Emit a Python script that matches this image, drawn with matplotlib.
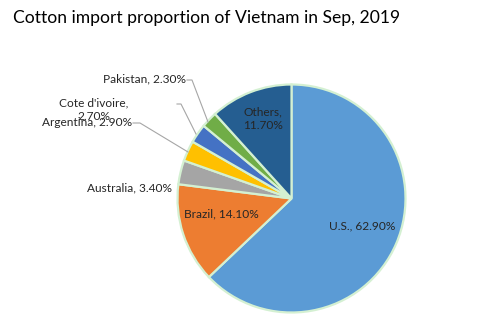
import matplotlib.pyplot as plt

plt.rcParams['font.family'] = ['Lato', 'DejaVu Sans']

# Share of cotton imports by origin
countries = ['U.S.', 'Brazil', 'Australia', 'Argentina', "Cote d'ivoire", 'Pakistan', 'Others']
shares = [62.90, 14.10, 3.40, 2.90, 2.70, 2.30, 11.70]
colors = ['#5B9BD5', '#ED7D31', '#A5A5A5', '#FFC000', '#4472C4', '#70AD47', '#255E91']

W, H = 500, 325
fig = plt.figure(figsize=(W / 100, H / 100), dpi=100)
ax = fig.add_axes([0, 0, 1, 1])

cx, cy, r = 291.5, H - 198.5, 114
wedges, _ = ax.pie(shares, colors=colors, startangle=90, counterclock=False,
                   center=(cx, cy), radius=r, frame=True,
                   wedgeprops=dict(edgecolor='#D4F0D2', linewidth=1.6))
ax.set_xlim(0, W)
ax.set_ylim(0, H)
ax.axis('off')

fig.text(207 / W, 1 - 18 / H, 'Cotton import proportion of Vietnam in Sep, 2019',
         ha='center', va='center', fontsize=12.6, color='black')

lbl = [f'{c}, {s:.2f}%' for c, s in zip(countries, shares)]
tc = '#262626'
fs = 8.6
# label positions in pixel coordinates (x, y from top)
ax.text(362, H - 226, lbl[0], ha='center', va='center', fontsize=fs, color=tc)
ax.text(221, H - 214, lbl[1], ha='center', va='center', fontsize=fs, color=tc)
ax.text(172, H - 188, lbl[2], ha='right', va='center', fontsize=fs, color=tc)
ax.text(132, H - 123, lbl[3], ha='right', va='center', fontsize=fs, color=tc)
ax.text(94, H - 110, f"{countries[4]},\n{shares[4]:.2f}%", ha='center', va='center',
        fontsize=fs, color=tc, linespacing=1.25)
ax.text(186, H - 79, lbl[5], ha='right', va='center', fontsize=fs, color=tc)
ax.text(263, H - 119, f"{countries[6]},\n{shares[6]:.2f}%", ha='center', va='center',
        fontsize=fs, color=tc, linespacing=1.3)

# leader lines
lc = '#A6A6A6'
ax.plot([133, 140, 188], [H - 123, H - 123, H - 152], color=lc, lw=0.8)
ax.plot([177, 181, 196], [H - 104, H - 104, H - 134], color=lc, lw=0.8)
ax.plot([187, 192, 208], [H - 80, H - 80, H - 122], color=lc, lw=0.8)

fig.savefig('out.png', dpi=100, facecolor='white')
